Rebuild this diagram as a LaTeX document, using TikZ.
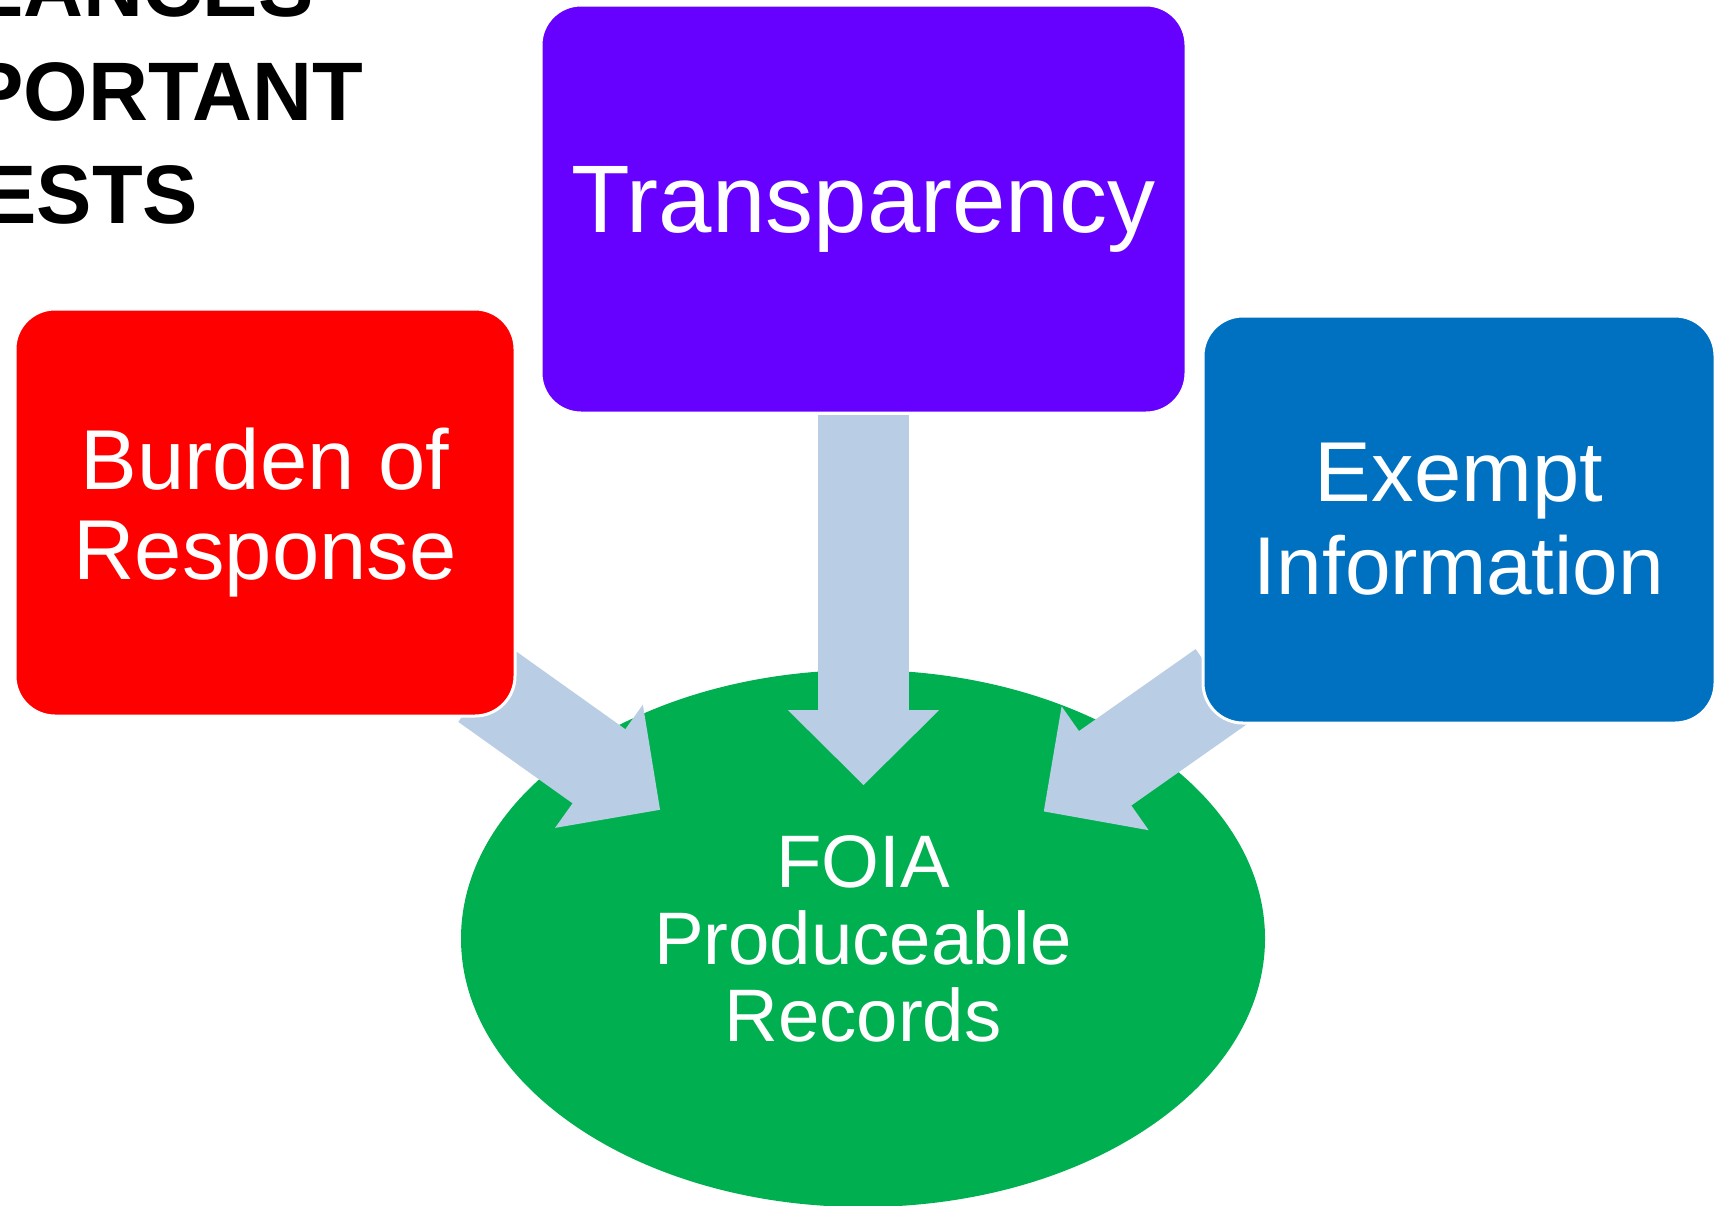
\documentclass[tikz,border=0pt]{standalone}
\usepackage{fontspec}
\setmainfont{Liberation Sans}
\usetikzlibrary{shapes.geometric, arrows.meta, positioning, calc, backgrounds}

\definecolor{burdenred}{HTML}{FF0000}
\definecolor{transpurple}{HTML}{6600FF}
\definecolor{exemptblue}{HTML}{0070C0}
\definecolor{foiagreen}{HTML}{00B050}
\definecolor{flowblue}{HTML}{B9CDE5}

\begin{document}
\begin{tikzpicture}[
    x=0.5pt, y=-0.5pt,
    box/.style={rectangle, rounded corners=20pt, draw=white, line width=1.5pt, text=white, align=center, minimum width=250pt, minimum height=203.5pt, inner sep=0pt},
    heading/.style={anchor=base west, inner sep=0pt, font=\fontsize{41.5pt}{50pt}\selectfont\bfseries},
    bigarrow/.style={flowblue, line width=45.5pt, -{Triangle[width=75.5pt, length=37.5pt, line width=1pt]}}
]
\useasboundingbox (0,0) rectangle (1716,1205);
\clip (0,0) rectangle (1716,1205);

% Heading (cut at the left edge)
\node[heading] (headtop) at (-28,16) {LANCES};
\node[heading] (headmid) at (-32,120) {PORTANT};
\node[heading] (headbot) at (-19,223) {ESTS};

% Boxes
\node[box, fill=burdenred, font=\fontsize{42.5pt}{45pt}\selectfont] (burden) at (265,512.5) {Burden of\\Response};
\node[box, fill=transpurple, minimum width=322.5pt, minimum height=204pt, font=\fontsize{48pt}{52pt}\selectfont] (trans) at (863.5,209) {Transparency};
\node[box, fill=exemptblue, minimum width=256pt, font=\fontsize{41pt}{46.5pt}\selectfont] (exempt) at (1459,519.5) {{\fontsize{42.5pt}{46.5pt}\selectfont Exempt}\\Information};

\begin{pgfonlayer}{background}
% Records
\node[ellipse, fill=foiagreen, text=white, minimum width=402pt, minimum height=268.5pt, inner sep=0pt, align=center, font=\fontsize{37.2pt}{38.5pt}\selectfont] (records) at (863,938.5) {FOIA\\Produceable\\Records};

% Arrows
\draw[bigarrow, shorten <=139.5pt, shorten >=120pt] ([shift={(-7.5,10.5)}]burden.center) -- ([shift={(-7.5,10.5)}]records.center);
\draw[bigarrow, shorten >=76.75pt] (trans.south) -- (trans.south |- records.center);
\draw[bigarrow, shorten <=145pt, shorten >=110.5pt] (exempt.center) -- (records.center);
\end{pgfonlayer}

\end{tikzpicture}
\end{document}
